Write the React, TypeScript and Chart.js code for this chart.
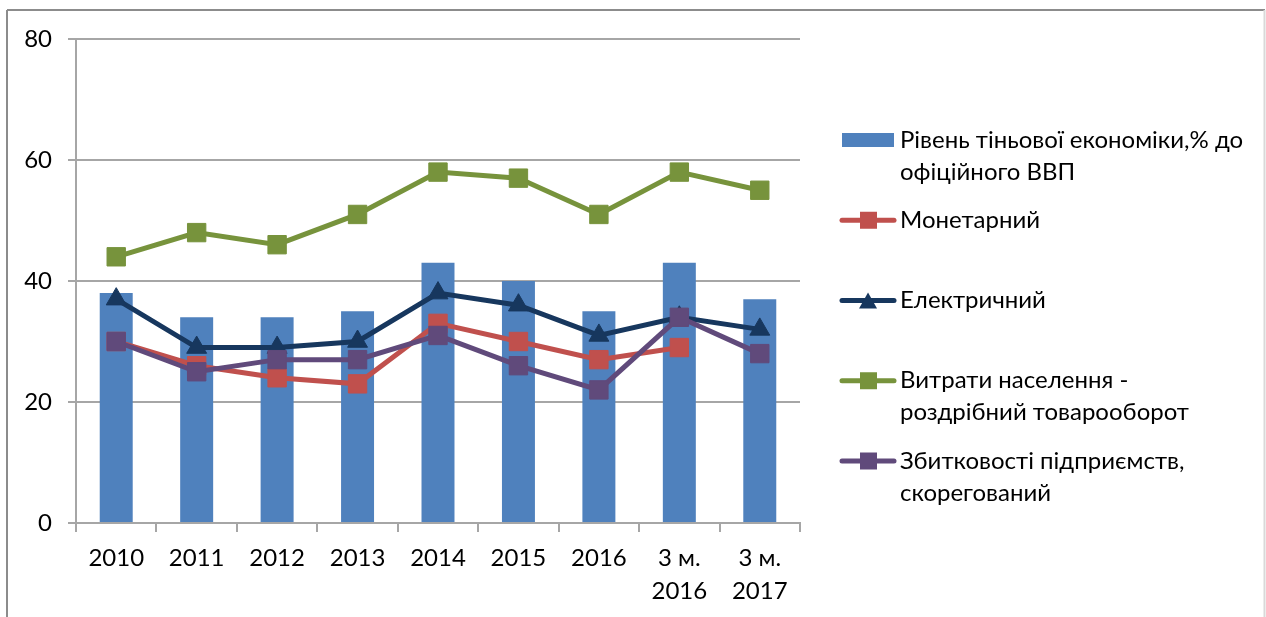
import React, { useEffect, useRef } from "react";
import { Chart, registerables } from "chart.js";

Chart.register(...registerables);

const categories: (string | string[])[] = [
  "2010", "2011", "2012", "2013", "2014", "2015", "2016",
  ["3 м.", "2016"], ["3 м.", "2017"],
];
const shadowLevel = [38, 34, 34, 35, 43, 40, 35, 43, 37];
const monetary = [30, 26, 24, 23, 33, 30, 27, 29, null];
const electric = [37, 29, 29, 30, 38, 36, 31, 34, 32];
const retail = [44, 48, 46, 51, 58, 57, 51, 58, 55];
const losses = [30, 25, 27, 27, 31, 26, 22, 34, 28];
const yTicks = [0, 20, 40, 60, 80];

const seriesNames = [
  ["Рівень тіньової економіки,% до", "офіційного ВВП"],
  ["Монетарний"],
  ["Електричний"],
  ["Витрати населення -", "роздрібний товарооборот"],
  ["Збитковості підприємств,", "скорегований"],
];

const FONT = "Lato, 'Open Sans', sans-serif";
const FONT_SIZE = 24;
const GRID = "#A6A6A6";

const COLORS = {
  bar: "#4F81BD",
  red: "#C0504D",
  navy: "#17375E",
  green: "#77933C",
  purple: "#604A7B",
};

const frame = {
  id: "frame",
  beforeDraw(chart: any) {
    const ctx = chart.ctx;
    ctx.save();
    ctx.fillStyle = "#fff";
    ctx.fillRect(0, 0, chart.width, chart.height);
    ctx.strokeStyle = "#8C8C8C";
    ctx.lineWidth = 2;
    ctx.beginPath();
    ctx.moveTo(7, 10);
    ctx.lineTo(1265, 10);
    ctx.moveTo(7, 10);
    ctx.lineTo(7, chart.height);
    ctx.stroke();
    ctx.strokeStyle = "#D9D9D9";
    ctx.beginPath();
    ctx.moveTo(1264.5, 10);
    ctx.lineTo(1264.5, chart.height);
    ctx.stroke();
    ctx.restore();
  },
};

const legend = {
  id: "customLegend",
  afterDraw(chart: any) {
    const ctx = chart.ctx;
    ctx.save();
    ctx.font = `${FONT_SIZE}px ${FONT}`;
    ctx.textBaseline = "middle";
    ctx.textAlign = "left";
    const x0 = 840;
    const textX = 900;
    const y0 = 140;
    const step = 80.25;
    const lineH = 32;
    const items = [
      { ds: 0, kind: "bar" },
      { ds: 1, kind: "line" },
      { ds: 2, kind: "line" },
      { ds: 3, kind: "line" },
      { ds: 4, kind: "line" },
    ];
    items.forEach((it, i) => {
      const y = y0 + i * step;
      const ds = chart.data.datasets[it.ds];
      if (it.kind === "bar") {
        ctx.fillStyle = ds.backgroundColor;
        ctx.fillRect(x0 + 2, y - 7, 52, 14);
      } else {
        ctx.strokeStyle = ds.borderColor;
        ctx.lineWidth = 5;
        ctx.lineCap = "round";
        ctx.beginPath();
        ctx.moveTo(x0 + 2, y);
        ctx.lineTo(x0 + 54, y);
        ctx.stroke();
        ctx.fillStyle = ds.pointBackgroundColor;
        if (ds.pointStyle === "triangle") {
          ctx.beginPath();
          ctx.moveTo(x0 + 28, y - 8);
          ctx.lineTo(x0 + 37, y + 8);
          ctx.lineTo(x0 + 19, y + 8);
          ctx.closePath();
          ctx.fill();
        } else {
          ctx.fillRect(x0 + 20, y - 8.5, 17, 17);
        }
      }
      ctx.fillStyle = "#000";
      seriesNames[it.ds].forEach((t, j) => {
        ctx.fillText(t, textX, y + j * lineH);
      });
    });
    ctx.restore();
  },
};

export default function App() {
  const ref = useRef<HTMLCanvasElement | null>(null);
  useEffect(() => {
    if (!ref.current) return;
    const lineDs = (label: string, data: any[], color: string, style: string, order: number, r: number) => ({
      type: "line" as const,
      label,
      data,
      borderColor: color,
      backgroundColor: color,
      pointBackgroundColor: color,
      pointBorderColor: color,
      pointBorderWidth: 1,
      pointStyle: style,
      pointRadius: r,
      borderWidth: 5,
      tension: 0,
      spanGaps: false,
      order,
    });
    const chart = new Chart(ref.current, {
      type: "bar",
      data: {
        labels: categories,
        datasets: [
          {
            type: "bar",
            label: seriesNames[0].join(" "),
            data: shadowLevel,
            backgroundColor: COLORS.bar,
            categoryPercentage: 1,
            barPercentage: 0.41,
            order: 10,
          } as any,
          lineDs(seriesNames[1].join(" "), monetary, COLORS.red, "rect", 5, 13),
          lineDs(seriesNames[2].join(" "), electric, COLORS.navy, "triangle", 4, 11.5),
          lineDs(seriesNames[3].join(" "), retail, COLORS.green, "rect", 3, 13),
          lineDs(seriesNames[4].join(" "), losses, COLORS.purple, "rect", 2, 13),
        ],
      },
      options: {
        responsive: false,
        animation: false,
        devicePixelRatio: 1,
        layout: { padding: { top: 39, right: 466, bottom: 0, left: 0 } },
        plugins: {
          legend: { display: false },
          tooltip: { enabled: false },
        },
        scales: {
          x: {
            offset: true,
            afterFit: (s: any) => { s.height = 94; },
            grid: {
              offset: true,
              drawOnChartArea: false,
              drawTicks: true,
              tickLength: 9,
              color: GRID,
              lineWidth: 2,
            },
            border: { display: true, color: GRID, width: 2 },
            ticks: {
              color: "#000",
              padding: 9,
              maxRotation: 0,
              autoSkip: false,
              font: { family: FONT, size: FONT_SIZE, lineHeight: 1.4 },
            },
          },
          y: {
            min: 0,
            max: 80,
            afterFit: (s: any) => { s.width = 76; },
            afterBuildTicks: (s: any) => { s.ticks = yTicks.map((v) => ({ value: v })); },
            grid: {
              color: GRID,
              lineWidth: 2,
              tickLength: 8,
              drawTicks: true,
            },
            border: { display: true, color: GRID, width: 2 },
            ticks: {
              color: "#000",
              padding: 16,
              font: { family: FONT, size: FONT_SIZE },
            },
          },
        },
      },
      plugins: [frame, legend],
    });
    return () => chart.destroy();
  }, []);
  return (
    <div style={{ position: "absolute", left: 0, top: 0, width: 1266, height: 617 }}>
      <canvas ref={ref} width={1266} height={617} style={{ display: "block" }} />
    </div>
  );
}
